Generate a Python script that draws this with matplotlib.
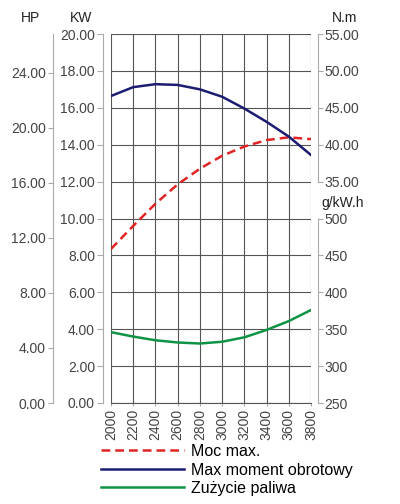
import numpy as np
import matplotlib.pyplot as plt

plt.rcParams['font.family'] = ['Liberation Sans', 'DejaVu Sans']

# data
rpm = [2000, 2200, 2400, 2600, 2800, 3000, 3200, 3400, 3600, 3800]
moc_kw = [8.35, 9.6, 10.8, 11.85, 12.7, 13.4, 13.9, 14.25, 14.4, 14.3]
moment_nm = [46.6, 47.8, 48.2, 48.1, 47.5, 46.5, 44.9, 43.1, 41.1, 38.6]
zuzycie = [346, 340, 335, 332, 330.6, 333, 339, 349, 361, 376]

kw_ticks = list(range(0, 21, 2))
hp_ticks = list(range(0, 25, 4))
nm_ticks = list(range(35, 56, 5))
g_ticks = list(range(250, 501, 50))

labels = ["Moc max.", "Max moment obrotowy", "Zużycie paliwa"]

tick_col = '#aaaaaa'
lab_col = '#444444'
px = 0.72  # points per pixel at 100 dpi

fig = plt.figure(figsize=(4, 5.04), dpi=100)
ax = fig.add_axes([111/400, 1-403/504, 200/400, 369/504])
ax.set_xlim(2000, 3800)
ax.set_ylim(0, 20)
ax.set_xticks(rpm)
ax.set_yticks(kw_ticks)
ax.set_yticklabels(['%.2f' % v for v in kw_ticks])
ax.set_xticklabels([str(v) for v in rpm], rotation=90)
ax.grid(True, color='#555555', lw=0.8)
ax.set_axisbelow(True)
for s in ['top', 'right']:
    ax.spines[s].set_visible(False)
ax.spines['left'].set_position(('outward', 8*px))
ax.spines['left'].set_color(tick_col)
ax.spines['bottom'].set_color('#555555')
ax.tick_params(axis='both', colors=tick_col, labelcolor=lab_col, labelsize=10,
               length=6*px, pad=1.5)
ax.tick_params(axis='x', length=3*px, pad=2)

l1, = ax.plot(rpm, moc_kw, color='#e02424', lw=1.8, dashes=(3.5, 2))

# HP axis (far left)
ax_hp = ax.twinx()
ax_hp.set_ylim(0, 20/0.7457)
ax_hp.set_yticks(hp_ticks)
ax_hp.set_yticklabels(['%.2f' % v for v in hp_ticks])
ax_hp.yaxis.set_ticks_position('left')
ax_hp.yaxis.set_label_position('left')
for s in ['top', 'right', 'bottom']:
    ax_hp.spines[s].set_visible(False)
ax_hp.spines['left'].set_visible(True)
ax_hp.spines['left'].set_position(('outward', 58*px))
ax_hp.spines['left'].set_color(tick_col)
ax_hp.tick_params(axis='y', colors=tick_col, labelcolor=lab_col, labelsize=10,
                  length=5*px, pad=1.5)

# N.m axis (right, upper part)
ax_nm = ax.twinx()
ax_nm.set_ylim(5, 55)
ax_nm.set_yticks(nm_ticks)
ax_nm.set_yticklabels(['%.2f' % v for v in nm_ticks])
for s in ['top', 'left', 'bottom']:
    ax_nm.spines[s].set_visible(False)
ax_nm.spines['right'].set_position(('outward', 7*px))
ax_nm.spines['right'].set_bounds(35, 55)
ax_nm.spines['right'].set_color(tick_col)
ax_nm.tick_params(axis='y', colors=tick_col, labelcolor=lab_col, labelsize=10,
                  length=5*px, pad=1)
l2, = ax_nm.plot(rpm, moment_nm, color='#1c1c72', lw=1.8)

# g/kW.h axis (right, lower part)
ax_g = ax.twinx()
ax_g.set_ylim(250, 750)
ax_g.set_yticks(g_ticks)
for s in ['top', 'left', 'bottom']:
    ax_g.spines[s].set_visible(False)
ax_g.spines['right'].set_position(('outward', 7*px))
ax_g.spines['right'].set_bounds(250, 500)
ax_g.spines['right'].set_color(tick_col)
ax_g.tick_params(axis='y', colors=tick_col, labelcolor=lab_col, labelsize=10,
                 length=5*px, pad=1)
l3, = ax_g.plot(rpm, zuzycie, color='#0e9444', lw=1.8)

fig.text(30/400, 1-18/504, 'HP', ha='center', va='center', fontsize=10, color='#222222')
fig.text(81/400, 1-18/504, 'KW', ha='center', va='center', fontsize=10, color='#222222')
fig.text(345/400, 1-18/504, 'N.m', ha='center', va='center', fontsize=10, color='#222222')
fig.text(343/400, 1-203/504, 'g/kW.h', ha='center', va='center', fontsize=10, color='#222222')

ax_g.legend([l1, l2, l3], labels, loc='upper left', bbox_to_anchor=(101/400, 1-444/504),
            bbox_transform=fig.transFigure, frameon=False, fontsize=11.5, handlelength=5.2,
            handletextpad=0.45, labelspacing=0.22, borderaxespad=0, borderpad=0)

fig.savefig('out.png', dpi=100)
